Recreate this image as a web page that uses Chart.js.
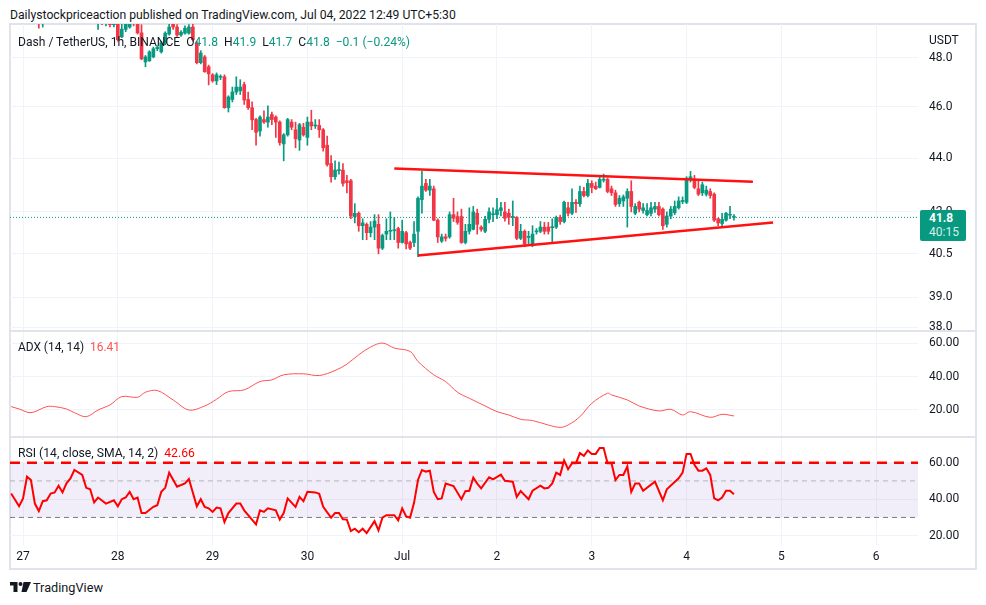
<!DOCTYPE html>
<html><head><meta charset="utf-8">
<script src="https://cdn.jsdelivr.net/npm/chart.js@4.4.0/dist/chart.umd.min.js"></script>
<style>
body{margin:0;background:#fff;width:986px;height:605px;overflow:hidden;font-family:Roboto,'Noto Sans',sans-serif;color:#131722;}
canvas{position:absolute;}
.t{position:absolute;white-space:nowrap;display:inline-block;}
</style></head><body>
<div style="position:absolute;left:9px;top:23px;width:968px;height:547px;box-sizing:border-box;border:2px solid #e0e3eb;"></div>
<canvas id="main" width="966" height="307" style="left:10px;top:24px;"></canvas>
<canvas id="adx" width="966" height="106" style="left:10px;top:331px;"></canvas>
<canvas id="rsi" width="966" height="132" style="left:10px;top:438px;"></canvas>
<div style="position:absolute;left:10px;top:330px;width:966px;height:2px;background:#e0e3eb;"></div>
<div style="position:absolute;left:10px;top:436px;width:966px;height:2px;background:#e0e3eb;"></div>

<div class="t" id="hdr" data-w="446" style="left:10px;top:7px;font-size:13px;line-height:16px;">Dailystockpriceaction published on TradingView.com, Jul 04, 2022 12:49 UTC+5:30</div>
<div class="t" id="leg" data-w="392" style="left:18px;top:34px;font-size:13px;line-height:16px;">Dash / TetherUS, 1h, BINANCE&nbsp; O<span style="color:#089981">41.8</span>&nbsp; H<span style="color:#089981">41.9</span>&nbsp; L<span style="color:#089981">41.7</span>&nbsp; C<span style="color:#089981">41.8</span>&nbsp; <span style="color:#089981">−0.1 (−0.24%)</span></div>
<div class="t" style="left:929px;top:33px;font-size:12px;line-height:15px;">USDT</div>
<div style="position:absolute;left:920px;top:210px;width:46px;height:31px;background:#089981;border-radius:2px;color:#fff;font-size:12px;font-family:Roboto;">
  <div style="position:absolute;left:9px;top:1px;font-weight:bold;line-height:15px;">41.8</div>
  <div style="position:absolute;left:9px;top:15px;line-height:15px;color:rgba(255,255,255,0.85);">40:15</div>
</div>
<div class="t" id="adxl" data-w="102" style="left:18px;top:339px;font-size:13px;line-height:16px;">ADX (14, 14)&nbsp; <span style="color:#ff5252">16.41</span></div>
<div class="t" id="rsil" data-w="177" style="left:18px;top:445px;font-size:13px;line-height:16px;">RSI (14, close, SMA, 14, 2)&nbsp; <span style="color:#ff0000">42.66</span></div>
<svg style="position:absolute;left:10px;top:581px;" width="22" height="12" viewBox="0 0 22 12">
  <path d="M0 1 H7.5 V11 H3.5 V4.5 H0 Z" fill="#131722"/>
  <circle cx="10.5" cy="3" r="2" fill="#131722"/>
  <path d="M13.5 1 H21 L16.5 11 H11.5 Z" fill="#131722"/>
</svg>
<div class="t" id="tvl" data-w="70" style="left:33px;top:579px;font-size:15px;line-height:17px;">TradingView</div>

<script>
// ---------- data ----------
const DAY_TICKS = [3, 27, 51, 75, 99, 123, 147, 171, 195, 219];
const DAY_LABELS = ['27', '28', '29', '30', 'Jul', '2', '3', '4', '5', '6'];
const PRICE_TICKS = [38, 39, 40.5, 42, 44, 46, 48];
const ADX_TICKS = [20, 40, 60];
const RSI_TICKS = [20, 40, 60];

const OPEN = [49.9,49.7,49.8,49.9,50.0,50.1,49.8,49.6,49.45,49.6,
49.8,50.0,50.2,50.1,50.0,49.9,50.0,50.2,50.0,49.8,
49.7,49.6,49.5,49.7,49.45,49.5,49.4,49.6,48.88,49.2,
49.3,49.55,49.45,49.05,47.83,47.88,48.04,48.38,48.25,48.63,
49.0,49.5,49.3,48.96,49.04,49.04,49.3,48.63,47.8,48.04,
47.63,47.3,47.05,47.2,47.22,45.97,46.3,46.6,46.65,46.9,
46.3,45.97,45.5,45.05,45.5,45.4,45.7,45.6,45.4,44.55,
44.9,45.4,45.1,44.7,45.2,44.8,45.4,45.25,45.27,45.1,
44.5,43.8,43.3,43.53,43.55,43.15,43.15,41.83,41.95,41.5,
41.55,41.25,41.45,41.55,40.7,41.2,41.3,41.32,41.4,40.9,
41.25,40.9,40.9,41.3,42.45,43.05,42.8,42.85,41.7,40.95,
41.1,41.1,41.9,41.83,41.83,40.9,41.3,41.37,41.95,41.45,
41.3,41.73,41.9,41.9,42.05,42.0,41.95,41.8,41.8,41.05,
41.3,41.08,40.8,41.28,41.3,41.45,41.45,41.43,41.45,41.8,
41.65,42.15,41.95,42.35,42.3,42.75,42.6,43.05,42.95,42.9,
43.17,43.2,42.85,42.7,42.3,42.4,42.5,42.75,41.95,42.35,
42.05,41.9,41.95,42.1,42.2,42.1,41.55,41.85,41.97,42.15,
42.38,42.35,43.2,43.2,42.85,42.7,42.65,42.75,42.65,41.75,
41.58,41.7,41.88,41.8];
const HIGH = [50.1,49.9,50.0,50.2,50.3,50.2,49.9,49.7,49.7,49.9,
50.1,50.3,50.4,50.3,50.2,50.1,50.3,50.4,50.2,50.0,
49.9,49.8,49.8,49.8,49.6,49.65,49.7,49.8,49.5,49.5,
49.6,49.7,49.6,49.4,48.1,48.3,48.45,48.5,48.7,49.1,
49.5,49.6,49.4,49.15,49.35,49.4,49.5,48.7,48.3,48.1,
47.7,47.35,47.38,47.3,47.3,46.45,46.8,47.22,47.1,47.0,
46.6,46.2,45.55,45.65,45.85,46.05,45.8,45.65,45.45,44.95,
45.55,45.5,45.4,45.35,45.35,45.6,45.87,45.5,45.5,45.15,
44.85,44.1,43.9,43.85,43.8,43.35,43.2,42.3,42.0,41.75,
41.6,41.65,41.9,41.9,41.2,41.75,42.0,41.8,41.45,41.7,
41.3,40.95,41.65,42.55,43.5,43.2,43.2,42.95,41.75,41.2,
41.2,42.0,42.5,42.0,42.1,41.55,42.15,42.2,42.1,41.5,
41.84,42.15,42.15,42.5,42.35,42.35,42.1,42.4,41.83,41.55,
41.35,41.3,41.5,41.4,41.65,41.62,41.62,41.75,41.85,41.88,
42.4,42.35,42.85,42.45,42.95,42.9,43.2,43.15,43.1,43.35,
43.4,43.25,42.95,42.8,42.6,42.62,42.85,43.15,42.3,42.4,
42.3,42.3,42.35,42.35,42.35,42.15,42.0,42.2,42.4,42.55,
42.55,43.3,43.5,43.35,43.2,43.1,42.95,42.85,42.7,41.78,
41.95,41.98,42.2,41.9];
const LOW = [49.6,49.5,49.6,49.7,49.8,49.7,49.5,49.25,49.3,49.5,
49.6,49.8,49.9,49.8,49.7,49.6,49.8,49.9,49.7,49.55,
49.5,49.45,49.2,49.4,49.35,49.3,49.3,48.7,48.85,49.1,
49.25,49.35,49.0,47.92,47.63,47.85,48.0,48.3,48.2,48.55,
48.95,49.2,48.9,48.9,49.0,49.0,48.7,47.75,47.75,47.4,
46.89,47.0,46.9,47.1,45.95,45.8,46.2,46.5,46.5,46.1,
45.9,45.1,44.5,44.85,45.35,45.2,45.3,44.8,44.5,43.9,
44.85,45.1,44.4,44.3,44.85,44.5,45.1,45.15,44.8,44.27,
43.7,43.1,43.2,43.4,42.95,42.7,41.75,41.6,41.3,41.0,
41.0,41.1,41.0,40.5,40.65,41.0,41.0,41.0,40.7,40.88,
40.67,40.65,40.75,40.4,41.95,42.75,42.6,41.68,40.9,40.9,
40.95,41.05,41.65,41.55,40.87,40.85,41.2,41.35,41.2,41.3,
41.25,41.6,41.65,41.75,41.85,41.66,41.55,41.5,41.0,41.0,
40.75,40.85,40.75,41.2,41.25,41.2,41.2,40.9,41.4,41.55,
41.6,41.85,41.9,41.98,42.2,42.55,42.55,42.7,42.82,42.88,
43.1,42.7,42.6,42.2,42.2,42.2,41.45,42.0,41.9,42.0,
41.95,41.85,41.85,41.98,41.85,41.37,41.45,41.75,41.9,42.1,
42.3,42.3,43.1,42.85,42.6,42.6,42.58,42.5,41.65,41.5,
41.5,41.66,41.75,41.7];
const CLOSE = [49.7,49.8,49.9,50.0,50.1,49.8,49.6,49.45,49.6,49.8,
50.0,50.2,50.1,50.0,49.9,50.0,50.2,50.0,49.8,49.7,
49.6,49.55,49.7,49.45,49.5,49.4,49.6,48.76,49.21,49.45,
49.5,49.45,49.05,47.96,48.04,48.25,48.38,48.45,48.63,49.04,
49.3,49.3,48.96,49.08,49.25,49.3,48.76,47.8,48.2,47.43,
47.34,47.05,47.3,47.22,45.97,46.4,46.6,46.8,46.8,46.28,
45.97,45.49,45.0,45.6,45.4,45.6,45.5,45.4,44.6,44.9,
45.5,45.2,44.75,45.3,44.9,45.4,45.25,45.27,45.1,44.4,
43.76,43.3,43.55,43.55,43.05,43.08,41.85,41.95,41.5,41.6,
41.25,41.45,41.67,40.7,41.15,41.3,41.32,41.34,40.9,41.3,
40.85,40.7,41.2,42.5,42.95,42.8,42.95,41.7,41.1,41.1,
41.05,41.9,41.77,41.62,40.9,41.3,41.55,42.0,41.55,41.37,
41.73,42.0,41.92,42.08,42.15,41.77,41.8,41.82,41.05,41.3,
40.85,41.12,41.2,41.3,41.45,41.3,41.3,41.45,41.8,41.65,
42.35,41.95,42.35,42.3,42.75,42.6,43.05,42.9,42.85,43.2,
43.2,42.75,42.7,42.27,42.5,42.55,42.75,42.2,42.2,42.1,
42.15,42.05,42.15,42.2,41.9,41.5,41.85,42.1,42.2,42.4,
42.42,43.25,43.3,42.9,42.65,43.0,42.8,42.6,41.7,41.6,
41.73,41.95,41.9,41.8];

const LAST_PRICE = 41.8;
const TREND_UPPER_X = [97, 187.8], TREND_UPPER_Y = [43.61, 43.11];
const TREND_LOWER_X = [103, 192.9], TREND_LOWER_Y = [40.44, 41.62];

const ADX_BAR = [0,2,5,9,11,14,16,19,22,25,28,32,34,37,41,45,49,52,55,59,63,66,69,74,78,82,85,88,91,94,97,101,103,107,110,113,116,120,123,126,129,132,136,139,141,144,147,151,152,156,159,164,167,170,172,177,180,183];
const ADX_VAL = [22,20.6,18.4,22,22,20.6,18.4,16,20,23,28,27.6,30.6,31.6,26,20,22.4,26.4,31,32,37,38,41,41.6,40.6,43.6,47.4,53,57.6,60,57,55,49,41,37,30.6,27,22.4,19,17,14.4,13.7,11,9.6,11,16,24,30,29,26,22.4,19.4,20.4,17,19,15.6,17.4,16.41];

const RSI_BAR = [0,2,3,4,5,6,7,8,9,10,11,12,13,14,15,16,18,19,20,21,22,24,26,27,28,29,30,31,32,33,34,36,37,38,39,40,42,44,45,47,48,49,50,51,52,53,54,55,57,58,59,62,63,64,65,67,68,69,70,72,73,74,75,77,78,79,81,82,83,84,85,86,87,88,89,90,92,93,94,95,97,98,99,100,101,102,103,104,105,106,107,108,109,110,112,114,115,116,117,118,119,121,122,124,125,127,128,129,131,132,134,135,136,137,138,139,140,141,142,143,144,145,146,147,148,149,150,151,152,153,154,155,156,157,158,159,160,163,165,166,169,170,171,172,173,174,175,176,177,178,179,180,181,182,183];
const RSI_VAL = [43.1,36.1,40.4,52.3,50.5,37.6,33.5,38.9,39.4,43.1,43.7,47.4,43.7,48.7,51.4,56,53.3,46.2,45.4,38.2,40.9,37.6,39.4,36.1,40,40.9,44,40,40.9,32.4,32.4,35.8,36.7,44,46.2,54.5,46.8,48.6,51,36.1,40,35.8,35,33,35.4,35,27.5,32.4,37.6,37.6,33.9,26.2,33.9,33,35,33.9,28.8,32.4,40.4,35.8,41.3,38.9,44,43.7,42.9,35.8,29.9,32.4,32.4,29,28.8,22.5,23.8,21.9,23.8,21.4,28,22.9,29.9,31.2,31.2,28.4,35,30.6,29.9,38,50.5,56,55.1,55.6,44,40,40.4,48.6,47.2,40,44.4,44.6,51.8,48.5,45.9,52,50.8,53.4,50.1,49.6,41.3,44.4,40,44.6,47.4,45.9,46.2,48.6,54.5,53.3,61.2,56.4,59.7,59.7,65.2,63.7,66.7,64.8,64.8,68,68,59.7,59.7,50.5,53.3,53.3,57.9,44,48.6,48.6,44.6,49.6,39.4,45.4,51.4,54.5,64.8,64.8,58.8,55.6,55.6,56.9,53.3,40.4,39.4,40.9,44.6,44.6,42.66];
const RSI_UPPER = 60, RSI_MID = 50, RSI_LOWER = 30;

// ---------- style ----------
const X_MIN = -0.3, X_MAX = 229.6;
const UP = '#089981', DOWN = '#f23645', GRID = '#f0f3fa';
Chart.defaults.font.family = 'Roboto';
Chart.defaults.animation = false;

function xScale(showLabels) {
  return {
    type: 'linear', min: X_MIN, max: X_MAX, offset: false,
    grid: { color: GRID, drawTicks: false, offset: false },
    border: { display: false },
    ticks: { display: showLabels, color: '#131722', font: { size: 12 }, padding: 5, maxRotation: 0, autoSkip: false,
      callback: v => { const k = DAY_TICKS.indexOf(v); return k >= 0 ? DAY_LABELS[k] : ''; } },
    afterBuildTicks: s => { s.ticks = DAY_TICKS.map(v => ({ value: v })); },
    afterFit: s => { s.height = showLabels ? 25 : 0; s.paddingLeft = 0; s.paddingRight = 0; }
  };
}
function yScale(type, min, max, ticks, fmt) {
  return {
    type, position: 'right', min, max,
    grid: { color: GRID, drawTicks: false },
    border: { display: false },
    ticks: { color: '#131722', font: { size: 12 }, padding: 11, autoSkip: false, callback: v => fmt(v) },
    afterBuildTicks: s => { s.ticks = ticks.map(v => ({ value: v })); },
    afterFit: s => { s.width = 58; s.paddingTop = 0; s.paddingBottom = 0; }
  };
}
const common = { responsive: false, animation: false, layout: { padding: 0 },
  plugins: { legend: { display: false }, tooltip: { enabled: false } } };

const idx = OPEN.map((_, i) => i);
const colors = idx.map(i => CLOSE[i] >= OPEN[i] ? UP : DOWN);
const hline = (y) => [{ x: X_MIN, y }, { x: X_MAX, y }];
const pts = (xs, ys) => xs.map((x, k) => ({ x, y: ys[k] }));

new Chart(document.getElementById('main'), {
  type: 'bar',
  data: { datasets: [
    { type: 'line', data: pts(TREND_UPPER_X, TREND_UPPER_Y), borderColor: '#ff1111', borderWidth: 2.5, pointRadius: 0 },
    { type: 'line', data: pts(TREND_LOWER_X, TREND_LOWER_Y), borderColor: '#ff1111', borderWidth: 2.5, pointRadius: 0 },
    { data: idx.map(i => ({ x: i, y: [OPEN[i], CLOSE[i]] })), backgroundColor: colors, barThickness: 3, grouped: false, minBarLength: 1, borderWidth: 0 },
    { data: idx.map(i => ({ x: i, y: [LOW[i], HIGH[i]] })), backgroundColor: colors, barThickness: 1, grouped: false, borderWidth: 0 },
    { type: 'line', data: hline(LAST_PRICE), borderColor: UP, borderWidth: 1, borderDash: [1, 2], pointRadius: 0 }
  ] },
  options: { ...common, scales: { x: xScale(false), y: yScale('logarithmic', 37.88, 49.43, PRICE_TICKS, v => v.toFixed(1)) } }
});

new Chart(document.getElementById('adx'), {
  type: 'line',
  data: { datasets: [
    { data: pts(ADX_BAR, ADX_VAL), borderColor: '#ff5252', borderWidth: 1, pointRadius: 0, tension: 0.35 }
  ] },
  options: { ...common, scales: { x: xScale(false), y: yScale('linear', 3.85, 67.2, ADX_TICKS, v => v.toFixed(2)) } }
});

new Chart(document.getElementById('rsi'), {
  type: 'line',
  data: { datasets: [
    { data: pts(RSI_BAR, RSI_VAL), borderColor: '#ff0000', borderWidth: 2, pointRadius: 0, tension: 0 },
    { data: hline(RSI_UPPER), borderColor: '#ff0000', borderWidth: 2.5, borderDash: [10, 7], pointRadius: 0 },
    { data: hline(RSI_MID), borderColor: '#b2b5be', borderWidth: 1, borderDash: [5, 4], pointRadius: 0 },
    { data: hline(RSI_LOWER), borderColor: '#787b86', borderWidth: 1, borderDash: [5, 4], pointRadius: 0,
      fill: { target: 1 }, backgroundColor: 'rgba(126,87,194,0.1)' }
  ] },
  options: { ...common, scales: { x: xScale(true), y: yScale('linear', 14.9, 73.5, RSI_TICKS, v => v.toFixed(2)) } }
});

// fit overlay text widths
document.querySelectorAll('[data-w]').forEach(el => {
  const w = el.getBoundingClientRect().width;
  const fs = parseFloat(getComputedStyle(el).fontSize);
  el.style.fontSize = (fs * parseFloat(el.dataset.w) / w).toFixed(2) + 'px';
});
</script>
</body></html>
